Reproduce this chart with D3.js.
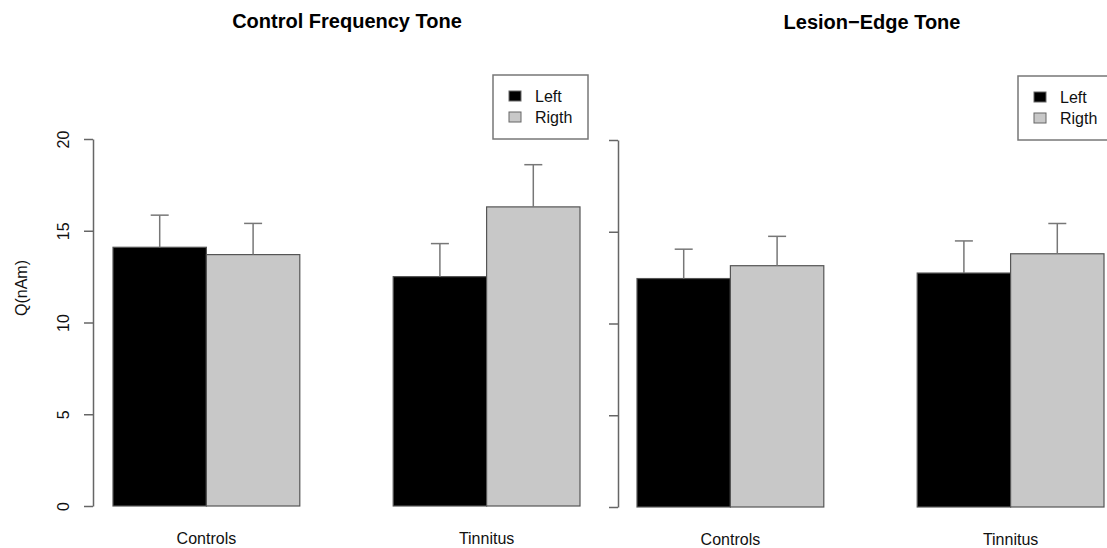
<!DOCTYPE html>
<html>
  <head>
    <meta charset="UTF-8" />
    <script src="https://d3js.org/d3.v7.min.js"></script>
    <style>
      body { margin: 0; background: #fff; }
      text { font-family: "Liberation Sans", Arial, sans-serif; }
    </style>
  </head>
  <body>
    <svg width="1107" height="548"></svg>

    <script>
      const groups = ["Controls", "Tinnitus"];
      const sides = ["Left", "Rigth"];
      const sideColors = ["#000000", "#c8c8c8"];
      const yTicks = [0, 5, 10, 15, 20];

      // Control Frequency Tone
      const cftLeft = [14.1, 12.5];
      const cftRight = [13.7, 16.3];
      const cftLeftSE = [1.75, 1.8];
      const cftRightSE = [1.7, 2.3];

      // Lesion-Edge Tone
      const lesLeft = [12.45, 12.75];
      const lesRight = [13.15, 13.8];
      const lesLeftSE = [1.6, 1.75];
      const lesRightSE = [1.6, 1.65];

      const svg = d3.select("svg");

      function drawPanel(opt) {
        const g = svg.append("g");
        const x = d3.scaleLinear().domain([1, 6]).range(opt.xRange);
        const y = d3.scaleLinear().domain([0, 20]).range(opt.yRange);
        const bw = x(2) - x(1);

        // title
        g.append("text")
          .attr("x", opt.titleX)
          .attr("y", opt.titleY)
          .attr("text-anchor", "middle")
          .attr("font-size", 20)
          .attr("font-weight", "bold")
          .text(opt.title);

        // y axis
        const yAxis = d3.axisLeft(y).tickValues(yTicks).tickSize(9).tickSizeOuter(0);
        if (!opt.labels) yAxis.tickFormat("");
        const ax = g.append("g")
          .attr("transform", "translate(" + opt.axisX + ",0)")
          .call(yAxis);
        ax.select(".domain").attr("stroke", "#666").attr("stroke-width", 1.5);
        ax.selectAll(".tick line").attr("stroke", "#666").attr("stroke-width", 1.5);
        ax.selectAll(".tick text")
          .attr("font-size", 16)
          .attr("fill", "#111")
          .attr("transform", "rotate(-90)")
          .attr("x", 0)
          .attr("y", -24)
          .attr("dy", 0)
          .attr("text-anchor", "middle");

        // bars
        const rows = [];
        groups.forEach((grp, gi) => {
          opt.values.forEach((vals, si) => {
            rows.push({
              pos: 1 + gi * 3 + si,
              v: vals[gi],
              se: opt.ses[si][gi],
              color: sideColors[si]
            });
          });
        });

        g.selectAll("rect.bar")
          .data(rows)
          .enter()
          .append("rect")
          .attr("class", "bar")
          .attr("x", d => x(d.pos))
          .attr("width", bw)
          .attr("y", d => y(d.v))
          .attr("height", d => y(0) - y(d.v))
          .attr("fill", d => d.color)
          .attr("stroke", "#555")
          .attr("stroke-width", 1.2);

        // error bars
        const eb = g.selectAll("g.err").data(rows).enter().append("g");
        eb.append("line")
          .attr("x1", d => x(d.pos + 0.5))
          .attr("x2", d => x(d.pos + 0.5))
          .attr("y1", d => y(d.v))
          .attr("y2", d => y(d.v + d.se))
          .attr("stroke", "#777")
          .attr("stroke-width", 1.5);
        eb.append("line")
          .attr("x1", d => x(d.pos + 0.5) - 9)
          .attr("x2", d => x(d.pos + 0.5) + 9)
          .attr("y1", d => y(d.v + d.se))
          .attr("y2", d => y(d.v + d.se))
          .attr("stroke", "#777")
          .attr("stroke-width", 1.5);

        // group labels
        g.selectAll("text.grp")
          .data(groups)
          .enter()
          .append("text")
          .attr("x", (d, i) => x(2 + i * 3))
          .attr("y", opt.labelY)
          .attr("text-anchor", "middle")
          .attr("font-size", 16)
          .attr("fill", "#111")
          .text(d => d);

        // legend
        const lg = g.append("g").attr("transform", "translate(" + opt.legend[0] + "," + opt.legend[1] + ")");
        lg.append("rect")
          .attr("width", 95).attr("height", 64)
          .attr("fill", "#fff")
          .attr("stroke", "#777").attr("stroke-width", 1.5);
        sides.forEach((s, i) => {
          lg.append("rect")
            .attr("x", 16).attr("y", 16 + i * 21)
            .attr("width", 12).attr("height", 10)
            .attr("fill", sideColors[i])
            .attr("stroke", "#666");
          lg.append("text")
            .attr("x", 42).attr("y", 27 + i * 21)
            .attr("font-size", 16)
            .attr("fill", "#111")
            .text(s);
        });
      }

      drawPanel({
        title: "Control Frequency Tone",
        titleX: 347, titleY: 28,
        xRange: [113, 580],
        yRange: [506, 139],
        axisX: 93,
        labels: true,
        labelY: 544,
        values: [cftLeft, cftRight],
        ses: [cftLeftSE, cftRightSE],
        legend: [493, 75]
      });

      drawPanel({
        title: "Lesion\u2212Edge Tone",
        titleX: 872, titleY: 29,
        xRange: [637, 1104],
        yRange: [507, 140],
        axisX: 618,
        labels: false,
        labelY: 545,
        values: [lesLeft, lesRight],
        ses: [lesLeftSE, lesRightSE],
        legend: [1018, 76]
      });

      // y axis title
      svg.append("text")
        .attr("transform", "translate(27,288) rotate(-90)")
        .attr("text-anchor", "middle")
        .attr("font-size", 16)
        .attr("fill", "#111")
        .text("Q(nAm)");
    </script>
  </body>
</html>
